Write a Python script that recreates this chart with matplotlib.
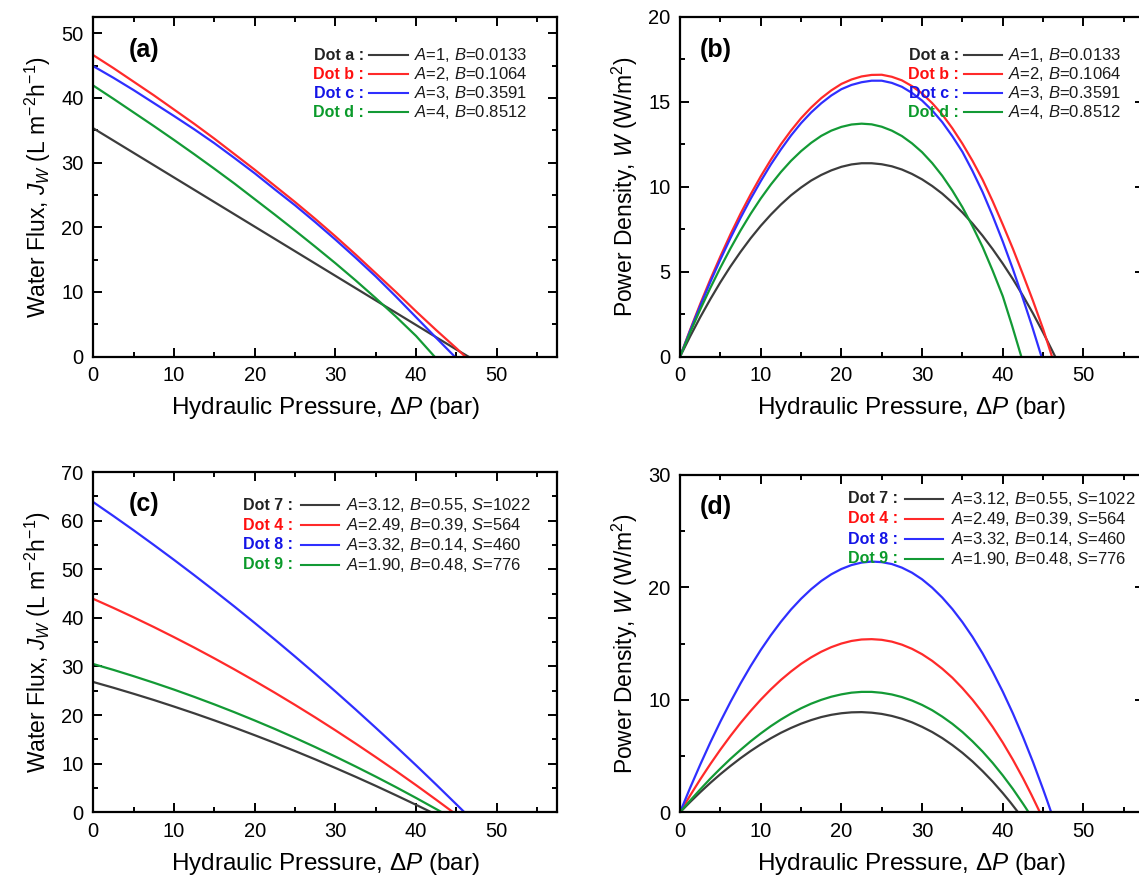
import matplotlib
matplotlib.use("Agg")
import matplotlib.pyplot as plt
from matplotlib.ticker import MultipleLocator

plt.rcParams['font.family'] = ['Liberation Sans', 'DejaVu Sans']
plt.rcParams['mathtext.fontset'] = 'custom'
plt.rcParams['mathtext.rm'] = 'Liberation Sans'
plt.rcParams['mathtext.it'] = 'Liberation Sans:italic'
plt.rcParams['mathtext.bf'] = 'Liberation Sans:bold'

# ---------------- water flux, dots a-d (panel a) ----------------
dp_a = [0, 2.5, 5, 7.5, 10, 12.5, 15, 17.5, 20, 22.5, 25, 27.5, 30, 32.5, 35, 37.5, 40, 42.5, 45, 46.5]
jw_a = [35.3, 33.4, 31.5, 29.6, 27.7, 25.8, 23.9, 22.0, 20.1, 18.2, 16.3, 14.4, 12.5, 10.6, 8.7, 6.8, 4.9, 3.0, 1.1, 0]

dp_b = [0, 2.5, 5, 7.5, 10, 12.5, 15, 17.5, 20, 22.5, 25, 27.5, 30, 32.5, 35, 37.5, 40, 42.5, 45, 46.1]
jw_b = [46.6, 44.6, 42.5, 40.4, 38.2, 36.0, 33.7, 31.3, 28.9, 26.4, 23.9, 21.3, 18.6, 15.8, 12.9, 10.0, 7.0, 4.1, 1.3, 0]

dp_c = [0, 2.5, 5, 7.5, 10, 12.5, 15, 17.5, 20, 22.5, 25, 27.5, 30, 32.5, 35, 37.5, 40, 42.5, 44.8]
jw_c = [44.9, 43.1, 41.2, 39.2, 37.2, 35.15, 33.0, 30.7, 28.35, 25.85, 23.4, 20.8, 18.1, 15.3, 12.4, 9.3, 6.1, 2.9, 0]

dp_d = [0, 2.5, 5, 7.5, 10, 12.5, 15, 17.5, 20, 22.5, 25, 27.5, 30, 32.5, 35, 37.5, 40, 42.3]
jw_d = [41.9, 39.85, 37.75, 35.65, 33.5, 31.3, 29.05, 26.75, 24.35, 21.95, 19.5, 17.0, 14.45, 11.8, 9.05, 6.2, 3.2, 0]

# ---------------- power density, dots a-d (panel b) ----------------
pw_a_x = [0, 1.25, 2.5, 3.75, 5, 6.25, 7.5, 8.75, 10, 11.25, 12.5, 13.75, 15, 16.25, 17.5, 18.75,
          20, 21.25, 22.5, 23.75, 25, 26.25, 27.5, 28.75, 30, 31.25, 32.5, 33.75, 35, 36.25,
          37.5, 38.75, 40, 41.25, 42.5, 43.75, 45, 46.5]
pw_a = [0, 1.19, 2.32, 3.38, 4.38, 5.31, 6.17, 6.97, 7.70, 8.36, 8.96, 9.50, 9.96, 10.37, 10.70,
        10.97, 11.18, 11.32, 11.39, 11.39, 11.33, 11.21, 11.02, 10.76, 10.44, 10.05, 9.60, 9.07,
        8.49, 7.84, 7.12, 6.33, 5.48, 4.57, 3.59, 2.54, 1.42, 0]

pw_b_x = [0, 1.25, 2.5, 3.75, 5, 6.25, 7.5, 8.75, 10, 11.25, 12.5, 13.75, 15, 16.25, 17.5, 18.75,
          20, 21.25, 22.5, 23.75, 25, 26.25, 27.5, 28.75, 30, 31.25, 32.5, 33.75, 35, 36.25,
          37.5, 38.75, 40, 41.25, 42.5, 43.75, 45, 45.55, 46.1]
pw_b = [0, 1.58, 3.10, 4.54, 5.90, 7.20, 8.42, 9.55, 10.61, 11.59, 12.50, 13.31, 14.04, 14.67,
        15.22, 15.68, 16.06, 16.32, 16.50, 16.59, 16.60, 16.48, 16.27, 15.93, 15.50, 14.93, 14.26,
        13.45, 12.54, 11.53, 10.42, 9.15, 7.78, 6.36, 4.84, 3.28, 1.63, 0.82, 0]

pw_c_x = [0, 1.25, 2.5, 3.75, 5, 6.25, 7.5, 8.75, 10, 11.25, 12.5, 13.75, 15, 16.25, 17.5, 18.75,
          20, 21.25, 22.5, 23.75, 25, 26.25, 27.5, 28.75, 30, 31.25, 32.5, 33.75, 35, 36.25,
          37.5, 38.75, 40, 41.25, 42.5, 43.65, 44.8]
pw_c = [0, 1.53, 2.99, 4.39, 5.72, 6.98, 8.17, 9.29, 10.33, 11.31, 12.20, 13.02, 13.75, 14.38,
        14.92, 15.38, 15.75, 16.00, 16.16, 16.25, 16.25, 16.12, 15.89, 15.53, 15.08, 14.50, 13.81,
        12.98, 12.06, 10.93, 9.69, 8.29, 6.78, 5.16, 3.42, 1.76, 0]

pw_d_x = [0, 1.25, 2.5, 3.75, 5, 6.25, 7.5, 8.75, 10, 11.25, 12.5, 13.75, 15, 16.25, 17.5, 18.75,
          20, 21.25, 22.5, 23.75, 25, 26.25, 27.5, 28.75, 30, 31.25, 32.5, 33.75, 35, 36.25,
          37.5, 38.75, 40, 41.15, 42.3]
pw_d = [0, 1.42, 2.77, 4.04, 5.24, 6.37, 7.43, 8.41, 9.31, 10.13, 10.87, 11.53, 12.10, 12.59,
        13.00, 13.31, 13.53, 13.67, 13.72, 13.68, 13.54, 13.31, 12.99, 12.56, 12.04, 11.40, 10.65,
        9.78, 8.80, 7.68, 6.46, 5.06, 3.56, 1.83, 0]

names_ab = ['a', 'b', 'c', 'd']
params_ab = ['$A$=1, $B$=0.0133', '$A$=2, $B$=0.1064', '$A$=3, $B$=0.3591', '$A$=4, $B$=0.8512']

# ---------------- water flux, dots 7, 4, 8, 9 (panel c) ----------------
dp_7 = [0, 2.5, 5, 7.5, 10, 12.5, 15, 17.5, 20, 22.5, 25, 27.5, 30, 32.5, 35, 37.5, 40, 41.9]
jw_7 = [26.8, 25.62, 24.38, 23.10, 21.75, 20.36, 18.91, 17.42, 15.86, 14.26, 12.60, 10.89, 9.12, 7.31, 5.44, 3.51, 1.54, 0]

dp_4 = [0, 2.5, 5, 7.5, 10, 12.5, 15, 17.5, 20, 22.5, 25, 27.5, 30, 32.5, 35, 37.5, 40, 42.5, 44.6]
jw_4 = [43.9, 42.04, 40.11, 38.11, 36.03, 33.89, 31.67, 29.38, 27.02, 24.59, 22.09, 19.52, 16.87, 14.15, 11.36, 8.51, 5.58, 2.57, 0]

dp_8 = [0, 2.5, 5, 7.5, 10, 12.5, 15, 17.5, 20, 22.5, 25, 27.5, 30, 32.5, 35, 37.5, 40, 42.5, 45, 46.0]
jw_8 = [63.8, 60.94, 58.01, 55.00, 51.93, 48.79, 45.58, 42.31, 38.95, 35.53, 32.04, 28.48, 24.86, 21.16, 17.39, 13.56, 9.66, 5.68, 1.63, 0]

dp_9 = [0, 2.5, 5, 7.5, 10, 12.5, 15, 17.5, 20, 22.5, 25, 27.5, 30, 32.5, 35, 37.5, 40, 42.5, 43.2]
jw_9 = [30.5, 29.29, 28.00, 26.65, 25.24, 23.75, 22.20, 20.58, 18.89, 17.14, 15.31, 13.42, 11.46, 9.43, 7.34, 5.18, 2.95, 0.65, 0]

# ---------------- power density, dots 7, 4, 8, 9 (panel d) ----------------
pw_7_x = [0, 1.25, 2.5, 3.75, 5, 6.25, 7.5, 8.75, 10, 11.25, 12.5, 13.75, 15, 16.25, 17.5, 18.75,
          20, 21.25, 22.5, 23.75, 25, 26.25, 27.5, 28.75, 30, 31.25, 32.5, 33.75, 35, 36.25,
          37.5, 38.75, 40, 40.95, 41.9]
pw_7 = [0, 0.91, 1.78, 2.61, 3.39, 4.12, 4.81, 5.45, 6.04, 6.58, 7.07, 7.50, 7.88, 8.20, 8.47,
        8.67, 8.81, 8.89, 8.91, 8.86, 8.75, 8.57, 8.32, 8.00, 7.60, 7.14, 6.60, 5.98, 5.29, 4.52,
        3.66, 2.73, 1.71, 0.88, 0]

pw_4_x = [0, 1.25, 2.5, 3.75, 5, 6.25, 7.5, 8.75, 10, 11.25, 12.5, 13.75, 15, 16.25, 17.5, 18.75,
          20, 21.25, 22.5, 23.75, 25, 26.25, 27.5, 28.75, 30, 31.25, 32.5, 33.75, 35, 36.25,
          37.5, 38.75, 40, 41.25, 42.5, 43.55, 44.6]
pw_4 = [0, 1.49, 2.92, 4.28, 5.57, 6.79, 7.94, 9.01, 10.01, 10.93, 11.77, 12.52, 13.20, 13.78,
        14.28, 14.69, 15.01, 15.24, 15.37, 15.40, 15.34, 15.18, 14.91, 14.54, 14.06, 13.47, 12.77,
        11.97, 11.04, 10.01, 8.86, 7.59, 6.20, 4.68, 3.04, 1.56, 0]

pw_8_x = [0, 1.25, 2.5, 3.75, 5, 6.25, 7.5, 8.75, 10, 11.25, 12.5, 13.75, 15, 16.25, 17.5, 18.75,
          20, 21.25, 22.5, 23.75, 25, 26.25, 27.5, 28.75, 30, 31.25, 32.5, 33.75, 35, 36.25,
          37.5, 38.75, 40, 41.25, 42.5, 43.75, 45, 45.5, 46.0]
pw_8 = [0, 2.17, 4.23, 6.20, 8.06, 9.81, 11.46, 13.00, 14.43, 15.74, 16.94, 18.03, 18.99, 19.84,
        20.57, 21.17, 21.64, 21.99, 22.21, 22.30, 22.25, 22.08, 21.76, 21.31, 20.72, 19.98, 19.10,
        18.08, 16.91, 15.60, 14.13, 12.50, 10.73, 8.80, 6.71, 4.46, 2.04, 1.03, 0]

pw_9_x = [0, 1.25, 2.5, 3.75, 5, 6.25, 7.5, 8.75, 10, 11.25, 12.5, 13.75, 15, 16.25, 17.5, 18.75,
          20, 21.25, 22.5, 23.75, 25, 26.25, 27.5, 28.75, 30, 31.25, 32.5, 33.75, 35, 36.25,
          37.5, 38.75, 40, 41.25, 42.5, 42.85, 43.2]
pw_9 = [0, 1.04, 2.03, 2.99, 3.89, 4.75, 5.55, 6.31, 7.01, 7.66, 8.25, 8.78, 9.25, 9.66, 10.00,
        10.28, 10.49, 10.64, 10.71, 10.71, 10.63, 10.48, 10.25, 9.94, 9.55, 9.08, 8.51, 7.87, 7.14,
        6.31, 5.40, 4.39, 3.28, 2.08, 0.77, 0.39, 0]

names_cd = ['7', '4', '8', '9']
params_cd = ['$A$=3.12, $B$=0.55, $S$=1022', '$A$=2.49, $B$=0.39, $S$=564',
             '$A$=3.32, $B$=0.14, $S$=460', '$A$=1.90, $B$=0.48, $S$=776']

line_colors = ['#3c3c3c', '#ff2a2a', '#2f2fff', '#139a35']
text_colors = ['#222222', '#ff1010', '#1414e6', '#0a9a2a']

XLABEL = 'Hydraulic Pressure, Δ$P$ (bar)'
YLABEL_J = 'Water Flux, $J_W$ (L m$^{-2}$h$^{-1}$)'
YLABEL_W = 'Power Density, $W$ (W/m$^2$)'

W_PX, H_PX = 1139, 881
fig = plt.figure(figsize=(W_PX / 100, H_PX / 100), dpi=100)


def px_axes(left, top, right, bottom):
    return fig.add_axes([left / W_PX, 1 - bottom / H_PX,
                         (right - left) / W_PX, (bottom - top) / H_PX])


def style(ax, ymax, ymajor, yminor, ylabel):
    ax.set_xlim(0, 57.5)
    ax.set_ylim(0, ymax)
    ax.xaxis.set_major_locator(MultipleLocator(10))
    ax.xaxis.set_minor_locator(MultipleLocator(5))
    ax.yaxis.set_major_locator(MultipleLocator(ymajor))
    ax.yaxis.set_minor_locator(MultipleLocator(yminor))
    ax.tick_params(which='both', direction='in', top=True, right=True,
                   labelsize=14.5, width=1.4, pad=7)
    ax.tick_params(which='major', length=6.5)
    ax.tick_params(which='minor', length=3.5)
    for s in ax.spines.values():
        s.set_linewidth(1.6)
    ax.set_xlabel(XLABEL, fontsize=17.5, labelpad=7)
    ax.set_ylabel(ylabel, fontsize=16.5, labelpad=6)


def key(ax, labels, params, x_lab, x_l0, x_l1, x_txt, rows):
    for lab, par, lc, tc, y in zip(labels, params, line_colors, text_colors, rows):
        ax.text(x_lab, y, 'Dot ' + lab + ' :', transform=ax.transAxes, ha='right',
                va='center', fontsize=11.5, fontweight='bold', color=tc)
        ax.plot([x_l0, x_l1], [y, y], transform=ax.transAxes, color=lc, lw=1.5,
                clip_on=False)
        ax.text(x_txt, y, par, transform=ax.transAxes, ha='left', va='center',
                fontsize=12, color='#1a1a1a')


def panel_tag(ax, tag, x, y):
    ax.text(x, y, tag, transform=ax.transAxes, ha='left', va='center',
            fontsize=18, fontweight='bold')


# (a) water flux
ax_a = px_axes(93.3, 17, 557.3, 356.7)
for x, y, c in zip([dp_a, dp_b, dp_c, dp_d], [jw_a, jw_b, jw_c, jw_d], line_colors):
    ax_a.plot(x, y, color=c, lw=1.6)
style(ax_a, 52.5, 10, 5, YLABEL_J)
key(ax_a, names_ab, params_ab, 0.583, 0.595, 0.679, 0.691, [0.888, 0.831, 0.775, 0.719])
panel_tag(ax_a, '(a)', 0.076, 0.903)

# (b) power density
ax_b = px_axes(680, 17, 1144, 356.7)
for x, y, c in zip([pw_a_x, pw_b_x, pw_c_x, pw_d_x], [pw_a, pw_b, pw_c, pw_d], line_colors):
    ax_b.plot(x, y, color=c, lw=1.6)
style(ax_b, 20, 5, 2.5, YLABEL_W)
key(ax_b, names_ab, params_ab, 0.601, 0.611, 0.693, 0.707, [0.888, 0.831, 0.775, 0.719])
panel_tag(ax_b, '(b)', 0.043, 0.903)

# (c) water flux
ax_c = px_axes(93.3, 472, 557.3, 812.3)
for x, y, c in zip([dp_7, dp_4, dp_8, dp_9], [jw_7, jw_4, jw_8, jw_9], line_colors):
    ax_c.plot(x, y, color=c, lw=1.6)
style(ax_c, 70, 10, 5, YLABEL_J)
key(ax_c, names_cd, params_cd, 0.430, 0.448, 0.529, 0.545, [0.903, 0.843, 0.786, 0.727])
panel_tag(ax_c, '(c)', 0.076, 0.906)

# (d) power density
ax_d = px_axes(680, 475, 1144, 812.3)
for x, y, c in zip([pw_7_x, pw_4_x, pw_8_x, pw_9_x], [pw_7, pw_4, pw_8, pw_9], line_colors):
    ax_d.plot(x, y, color=c, lw=1.6)
style(ax_d, 30, 10, 5, YLABEL_W)
key(ax_d, names_cd, params_cd, 0.470, 0.485, 0.567, 0.584, [0.929, 0.870, 0.810, 0.751])
panel_tag(ax_d, '(d)', 0.043, 0.905)

fig.savefig('out.png', dpi=100)
